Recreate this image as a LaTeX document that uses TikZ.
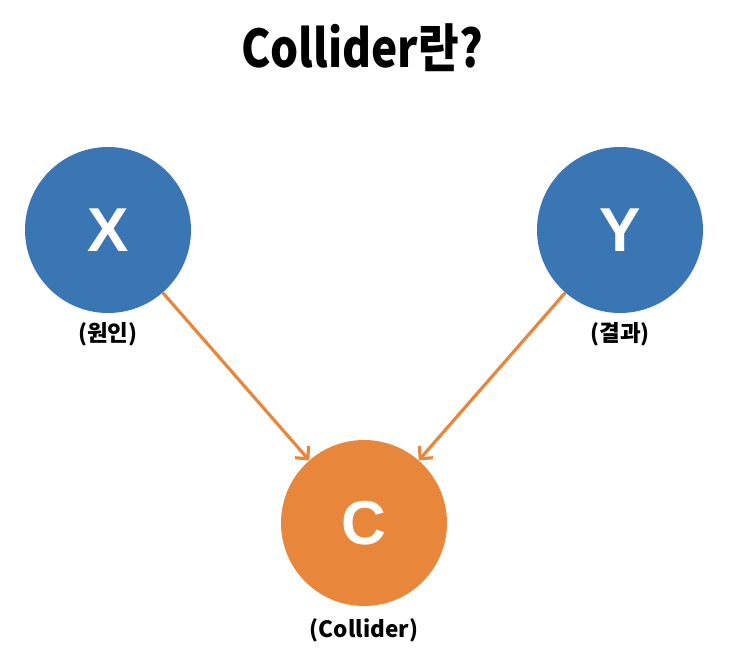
\documentclass[tikz,border=0pt]{standalone}
\usepackage{fontspec}
\usepackage{tikz}
\usetikzlibrary{arrows.meta}
\newfontfamily\krfont{Noto Sans CJK KR}
\newfontfamily\titlefont{Noto Sans CJK KR}[FakeStretch=0.85]
\newfontfamily\varfont{Liberation Sans}
\definecolor{nodeblue}{HTML}{3A75B4}
\definecolor{nodeorange}{HTML}{E8873B}

\begin{document}
\begin{tikzpicture}[x=1pt,y=-1pt,
  var/.style={circle,minimum size=166pt,inner sep=0pt,text=white,font=\varfont\bfseries\fontsize{62}{62}\selectfont},
  lbl/.style={font=\krfont\bfseries\fontsize{22.5}{22.5}\selectfont},
  link/.style={-{Straight Barb[length=9pt,width=18pt]},nodeorange,line width=3.2pt}]
\useasboundingbox (0,0) rectangle (740,662);
\node [font=\titlefont\bfseries\fontsize{52}{52}\selectfont] (title) at (362,48) {Collider란?};
\node [var,fill=nodeblue] (X) at (108,230) {X};
\node [var,fill=nodeblue] (Y) at (620,230) {Y};
\node [var,fill=nodeorange] (C) at (364,523) {C};
\node [lbl] (xl) at (108,334) {(원인)};
\node [lbl] (yl) at (620,334) {(결과)};
\node [lbl] (cl) at (364,630) {(Collider)};
\draw [link] (X) -- (C);
\draw [link] (Y) -- (C);
\end{tikzpicture}
\end{document}
